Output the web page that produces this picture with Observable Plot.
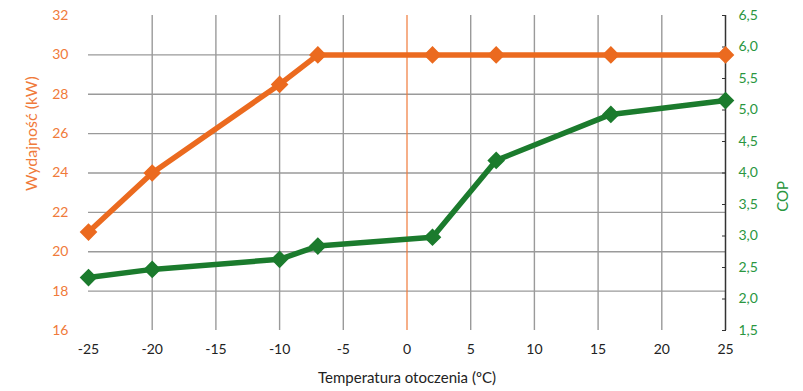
<!DOCTYPE html>
<html>
<head>
<meta charset="utf-8">
<script src="https://cdn.jsdelivr.net/npm/d3@7"></script>
<script src="https://cdn.jsdelivr.net/npm/@observablehq/plot@0.6"></script>
<style>
  html, body { margin: 0; padding: 0; background: #fff; }
  svg { font-family: Lato, "Open Sans", sans-serif; }
</style>
</head>
<body>
<div id="chart"></div>
<script>
const temps = [-25, -20, -10, -7, 2, 7, 16, 25];
const power = [21, 24, 28.5, 30, 30, 30, 30, 30];
const cop = [2.34, 2.47, 2.63, 2.84, 2.98, 4.2, 4.93, 5.15];
const xTicks = [-25, -20, -15, -10, -5, 0, 5, 10, 15, 20, 25];
const xGrid = [-20, -15, -10, -5, 5, 10, 15, 20];
const kwTicks = [16, 18, 20, 22, 24, 26, 28, 30, 32];
const kwGrid = [18, 20, 22, 24, 26, 28, 30];
const copTicks = [1.5, 2, 2.5, 3, 3.5, 4, 4.5, 5, 5.5, 6, 6.5];
const xTitle = "Temperatura otoczenia (ºC)";
const leftTitle = "Wydajność (kW)";
const rightTitle = "COP";

const ORANGE = "#EB6A1F", ORANGE_T = "#F07A3A";
const GREEN = "#1B7B2D", GREEN_T = "#2A9640";

// COP axis mapped linearly onto the kW axis (1.5 -> 16, 6.5 -> 32)
const copToKw = c => 16 + (c - 1.5) * 3.2;
const kwToCop = k => (k - 16) / 3.2 + 1.5;

const powerData = temps.map((t, i) => ({t, v: power[i]}));
const copData = temps.map((t, i) => ({t, v: copToKw(cop[i])}));

const chart = Plot.plot({
  width: 803,
  height: 391,
  marginLeft: 88,
  marginRight: 78,
  marginTop: 15,
  marginBottom: 61,
  x: {domain: [-25, 25]},
  y: {domain: [16, 32]},
  style: {fontSize: "14px", fontFamily: "Lato, 'Open Sans', sans-serif", background: "#fff"},
  marks: [
    Plot.gridY(kwGrid, {stroke: "#9a9a9a", strokeOpacity: 1, strokeWidth: 1.4}),
    Plot.gridX(xGrid, {stroke: "#9a9a9a", strokeOpacity: 1, strokeWidth: 1.4}),
    Plot.ruleX([0], {stroke: ORANGE_T, strokeWidth: 1.2}),
    Plot.ruleX([25], {y1: 16, y2: 32, stroke: "#333", strokeWidth: 1.5}),
    Plot.axisY({anchor: "left", ticks: kwTicks, tickSize: 0, tickPadding: 20, color: ORANGE_T,
      label: null, fontSize: 14}),
    Plot.axisY({anchor: "right", ticks: copTicks.map(copToKw), tickSize: -4, tickPadding: 17,
      tickFormat: d => kwToCop(d).toFixed(1).replace(".", ","), color: GREEN_T, stroke: "#333",
      label: null, fontSize: 14}),
    Plot.axisX({ticks: xTicks, tickSize: 0, tickPadding: 14, color: "#222",
      tickFormat: d => String(d), label: null, fontSize: 14}),
    Plot.text([leftTitle], {frameAnchor: "left", dx: -57, dy: 18, rotate: -90, fill: ORANGE_T, fontSize: 16, lineAnchor: "middle"}),
    Plot.text([rightTitle], {frameAnchor: "right", dx: 58, dy: 8, rotate: -90, fill: GREEN_T, fontSize: 15, lineAnchor: "middle"}),
    Plot.text([xTitle], {frameAnchor: "bottom", dy: 48, fill: "#222", fontSize: 15, lineAnchor: "middle"}),
    Plot.line(copData, {x: "t", y: "v", stroke: GREEN, strokeWidth: 5.5}),
    Plot.dot(copData, {x: "t", y: "v", symbol: "diamond2", r: 7, fill: GREEN, stroke: GREEN}),
    Plot.line(powerData, {x: "t", y: "v", stroke: ORANGE, strokeWidth: 5.5}),
    Plot.dot(powerData, {x: "t", y: "v", symbol: "diamond2", r: 7, fill: ORANGE, stroke: ORANGE})
  ]
});
document.getElementById("chart").appendChild(chart);
</script>
</body>
</html>
